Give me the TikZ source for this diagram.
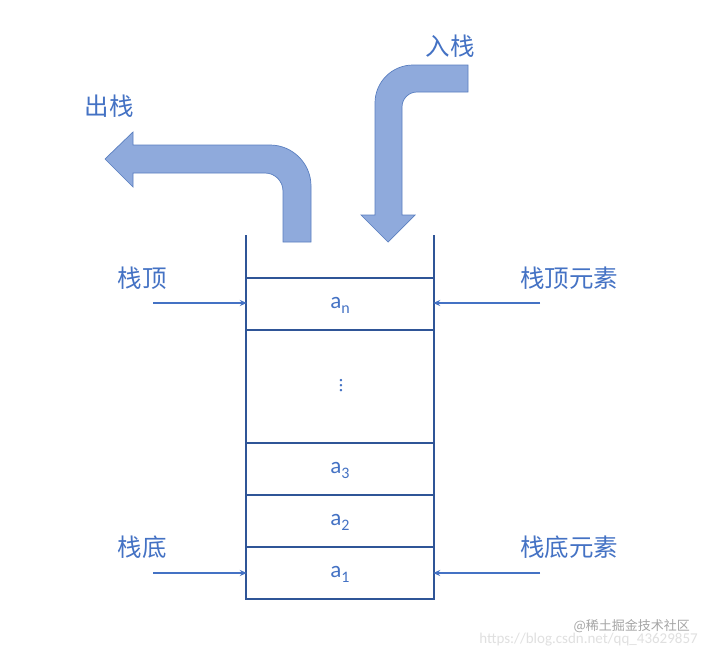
\documentclass[tikz,border=0pt]{standalone}
\usepackage{fontspec}
\setmainfont{Carlito}
\newfontfamily\cjk{Noto Sans CJK SC}
\usetikzlibrary{arrows.meta}
\definecolor{txtblue}{HTML}{4472C4}
\definecolor{linblue}{HTML}{2F5597}
\definecolor{fillblue}{HTML}{8FAADC}
\definecolor{edgeblue}{HTML}{5A7FC0}
\begin{document}
\begin{tikzpicture}[x=1pt,y=-1pt,
  lbl/.style={text=txtblue,font=\cjk\fontsize{24.5}{24.5}\selectfont,inner sep=0pt},
  cell/.style={text=txtblue,font=\fontsize{23}{23}\selectfont,inner sep=0pt,minimum width=186pt,minimum height=50pt},
  wall/.style={draw=linblue,line width=1.8pt},
  ptr/.style={draw=txtblue,line width=1.6pt,-{Stealth[length=7pt,width=6pt]}},
  bigarrow/.style={fill=fillblue,draw=edgeblue,line width=0.7pt,line join=miter}]
\useasboundingbox (0,0) rectangle (707,654);
\fill[white] (0,0) rectangle (707,654);
% stack walls
\coordinate (tl) at (246,235);
\coordinate (tr) at (434,235);
\coordinate (bl) at (246,599);
\coordinate (br) at (434,599);
\draw[wall] (tl) -- (bl) -- (br) -- (tr);
\foreach \yy in {278,330,443,495,547} \draw[wall] (246,\yy) -- (434,\yy);
% cells
\newcommand\sub[1]{\raisebox{-0.45ex}{\fontsize{16}{16}\selectfont #1}}
\node[cell] (an) at (340,305) {a\sub{n}};
\node[cell] (dots) at (341,386) {\fontsize{20}{20}\selectfont\rotatebox{90}{\dots}};
\node[cell] (a3) at (340,470) {a\sub{3}};
\node[cell] (a2) at (340,522) {a\sub{2}};
\node[cell] (a1) at (340,574) {a\sub{1}};
% labels
\node[lbl] (top) at (142,278) {栈顶};
\node[lbl] (topel) at (569,278) {栈顶元素};
\node[lbl] (bot) at (142,547) {栈底};
\node[lbl] (botel) at (569,547) {栈底元素};
\node[lbl] (pop) at (109,106) {出栈};
\node[lbl] (push) at (450,46) {入栈};
% pointers
\coordinate (p1) at (153,303);
\coordinate (p2) at (540,303);
\coordinate (p3) at (153,573);
\coordinate (p4) at (540,573);
\draw[ptr] (p1) -- (an.west |- p1);
\draw[ptr] (p2) -- (an.east |- p2);
\draw[ptr] (p3) -- (a1.west |- p3);
\draw[ptr] (p4) -- (a1.east |- p4);
% pop arrow
\draw[bigarrow] (105,159) -- (133,132) -- (133,145) -- (270,145)
  .. controls (292.6,145) and (311,163.4) .. (311,186) -- (311,242) -- (283,242) -- (283,191)
  .. controls (283,181.1) and (274.9,173) .. (265,173) -- (133,173) -- (133,187) -- cycle;
% push arrow
\draw[bigarrow] (468,65) -- (413,65) .. controls (392,65) and (375,82) .. (375,103)
  -- (375,215) -- (361,215) -- (388,242) -- (415,215) -- (402,215) -- (402,107)
  .. controls (402,98.7) and (408.7,92) .. (417,92) -- (468,92) -- cycle;
% watermark
\node[text=black!12,font=\fontsize{15}{15}\selectfont,inner sep=0pt,anchor=east] (wm1) at (698,640) {https://blog.csdn.net/qq\_43629857};
\node[text=black!35,font=\cjk\fontsize{13}{13}\selectfont,inner sep=0pt,anchor=east] (wm2) at (690,626) {@稀土掘金技术社区};
\end{tikzpicture}
\end{document}
